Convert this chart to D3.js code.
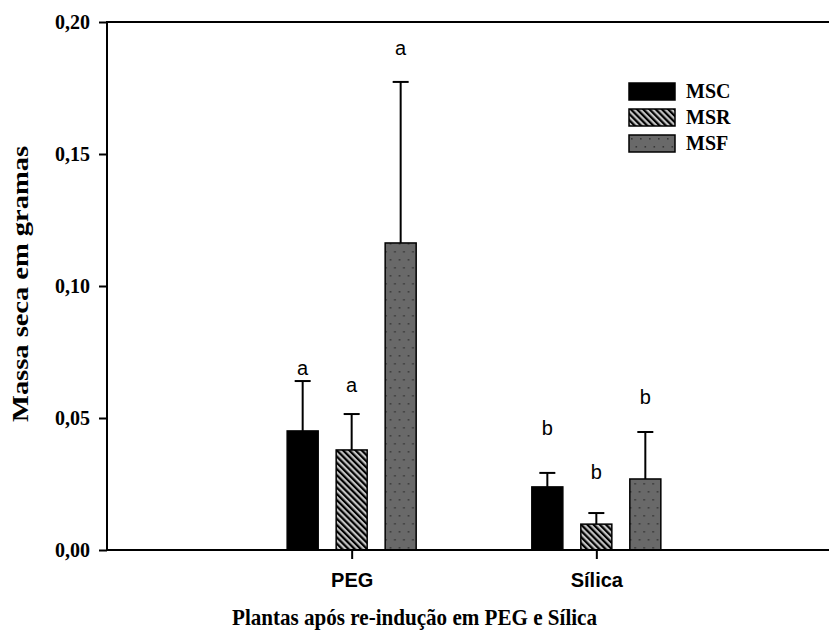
<!DOCTYPE html>
<html>
<head>
<meta charset="utf-8">
<script src="https://cdn.jsdelivr.net/npm/d3@7"></script>
<style>
body{margin:0;background:#fff;}
.serif{font-family:"Liberation Serif","Times New Roman",serif;font-weight:bold;}
.sans{font-family:"Liberation Sans",Arial,sans-serif;}
</style>
</head>
<body>
<div id="plot"></div>
<script>
//chart values
var groups = ['PEG','Sílica'],
	series = ['MSC','MSR','MSF'];
var mscMean = [0.0451,0.0239],
	msrMean = [0.0379,0.0098],
	msfMean = [0.1163,0.0269];
var mscErr = [0.0189,0.0053],
	msrErr = [0.0136,0.0042],
	msfErr = [0.0610,0.0178];
var mscLetter = ['a','b'],
	msrLetter = ['a','b'],
	msfLetter = ['a','b'];
//height of each letter in data units
var mscLetterY = [0.0663,0.0436],
	msrLetterY = [0.0598,0.0269],
	msfLetterY = [0.1875,0.0553];
var yTicks = [0,0.05,0.10,0.15,0.20];
var yTitle = 'Massa seca em gramas',
	xTitle = 'Plantas após re-indução em PEG e Sílica';

var W = 829, H = 636;
var m = {t:22,l:107,b:86};

var svg = d3.select('#plot').append('svg')
	.attr('width',W).attr('height',H);

//patterns for MSR and MSF
var defs = svg.append('defs');
var hatch = defs.append('pattern')
	.attr('id','hatch').attr('patternUnits','userSpaceOnUse')
	.attr('width',4.4).attr('height',4.4)
	.attr('patternTransform','rotate(-45)');
hatch.append('rect').attr('width',4.4).attr('height',4.4).attr('fill','#c4c4c4');
hatch.append('rect').attr('width',2.2).attr('height',4.4).attr('fill','#000');

var dots = defs.append('pattern')
	.attr('id','dots').attr('patternUnits','userSpaceOnUse')
	.attr('width',9).attr('height',16);
dots.append('rect').attr('width',9).attr('height',16).attr('fill','#696969');
dots.append('rect').attr('x',2).attr('y',3).attr('width',1.6).attr('height',1.6).attr('fill','#383838');
dots.append('rect').attr('x',6.5).attr('y',11).attr('width',1.6).attr('height',1.6).attr('fill','#383838');

var fills = {MSC:'#000',MSR:'url(#hatch)',MSF:'url(#dots)'};

var rows = [];
groups.forEach(function(g,i){
	rows.push({group:g,key:'MSC',value:mscMean[i],err:mscErr[i],letter:mscLetter[i],ly:mscLetterY[i]});
	rows.push({group:g,key:'MSR',value:msrMean[i],err:msrErr[i],letter:msrLetter[i],ly:msrLetterY[i]});
	rows.push({group:g,key:'MSF',value:msfMean[i],err:msfErr[i],letter:msfLetter[i],ly:msfLetterY[i]});
});

//scales
var scaleX = d3.scalePoint().domain(groups).range([m.l,841]).padding(1),
	scaleSub = d3.scaleBand().domain(series).range([-64.5,64.5]).paddingInner(0.367),
	scaleY = d3.scaleLinear().domain([0,0.2]).range([H-m.b,m.t]);

var locale = d3.formatLocale({decimal:',',thousands:'.',grouping:[3],currency:['','']});

//frame: top line and axes
svg.append('line')
	.attr('x1',m.l).attr('x2',W).attr('y1',scaleY(0.2)).attr('y2',scaleY(0.2))
	.attr('stroke','#000').attr('stroke-width',2);

var yAxis = d3.axisLeft(scaleY).tickValues(yTicks).tickSize(8).tickPadding(9)
	.tickFormat(locale.format('.2f'));
var yAxisNode = svg.append('g').attr('transform','translate('+m.l+',0)').call(yAxis);
yAxisNode.select('.domain').remove();
yAxisNode.append('line')
	.attr('y1',scaleY(0.2)-1).attr('y2',scaleY(0)+1)
	.attr('stroke','#000').attr('stroke-width',2);
yAxisNode.selectAll('.tick line').attr('stroke-width',2);
yAxisNode.selectAll('.tick text')
	.attr('class','serif').attr('font-size',20).attr('fill','#000').attr('dy','0.34em');

//bars
var bars = svg.selectAll('.bar').data(rows).enter()
	.append('g').attr('class','bar')
	.attr('transform',function(d){return 'translate('+scaleX(d.group)+',0)'});

//error bars (upper only)
bars.append('line')
	.attr('x1',function(d){return scaleSub(d.key)+scaleSub.bandwidth()/2})
	.attr('x2',function(d){return scaleSub(d.key)+scaleSub.bandwidth()/2})
	.attr('y1',function(d){return scaleY(d.value)})
	.attr('y2',function(d){return scaleY(d.value+d.err)})
	.attr('stroke','#000').attr('stroke-width',2);
bars.append('line')
	.attr('x1',function(d){return scaleSub(d.key)+scaleSub.bandwidth()/2-8})
	.attr('x2',function(d){return scaleSub(d.key)+scaleSub.bandwidth()/2+8})
	.attr('y1',function(d){return scaleY(d.value+d.err)})
	.attr('y2',function(d){return scaleY(d.value+d.err)})
	.attr('stroke','#000').attr('stroke-width',2);

bars.append('rect')
	.attr('x',function(d){return scaleSub(d.key)})
	.attr('width',scaleSub.bandwidth())
	.attr('y',function(d){return scaleY(d.value)})
	.attr('height',function(d){return scaleY(0)-scaleY(d.value)})
	.attr('fill',function(d){return fills[d.key]})
	.attr('stroke','#000').attr('stroke-width',1.5);

bars.append('text').attr('class','sans')
	.attr('x',function(d){return scaleSub(d.key)+scaleSub.bandwidth()/2})
	.attr('y',function(d){return scaleY(d.ly)})
	.attr('text-anchor','middle').attr('font-size',20)
	.text(function(d){return d.letter});

//x axis
var xAxis = d3.axisBottom(scaleX).tickSize(9).tickPadding(14);
var xAxisNode = svg.append('g').attr('transform','translate(0,'+scaleY(0)+')').call(xAxis);
xAxisNode.select('.domain').remove();
xAxisNode.append('line')
	.attr('x1',m.l-1).attr('x2',W)
	.attr('stroke','#000').attr('stroke-width',2);
xAxisNode.selectAll('.tick line').attr('stroke-width',2);
xAxisNode.selectAll('.tick text')
	.attr('class','sans').attr('font-size',20).attr('font-weight','bold').attr('fill','#000');

//titles (the original text is a little stretched, so fix its length)
svg.append('text').attr('class','serif')
	.attr('x',W/2).attr('y',625).attr('text-anchor','middle').attr('font-size',23)
	.attr('textLength',365).attr('lengthAdjust','spacingAndGlyphs')
	.text(xTitle);
svg.append('text').attr('class','serif')
	.attr('transform','translate(28,284) rotate(-90)')
	.attr('text-anchor','middle').attr('font-size',24)
	.attr('textLength',276).attr('lengthAdjust','spacingAndGlyphs')
	.text(yTitle);

//legend
var legend = svg.selectAll('.legend').data(series).enter()
	.append('g').attr('class','legend')
	.attr('transform',function(d,i){return 'translate(629,'+(83+i*26)+')'});
legend.append('rect')
	.attr('width',46).attr('height',17)
	.attr('fill',function(d){return fills[d]})
	.attr('stroke','#000').attr('stroke-width',1.5);
legend.append('text').attr('class','serif')
	.attr('x',57).attr('y',15).attr('font-size',20)
	.text(function(d){return d});
</script>
</body>
</html>
